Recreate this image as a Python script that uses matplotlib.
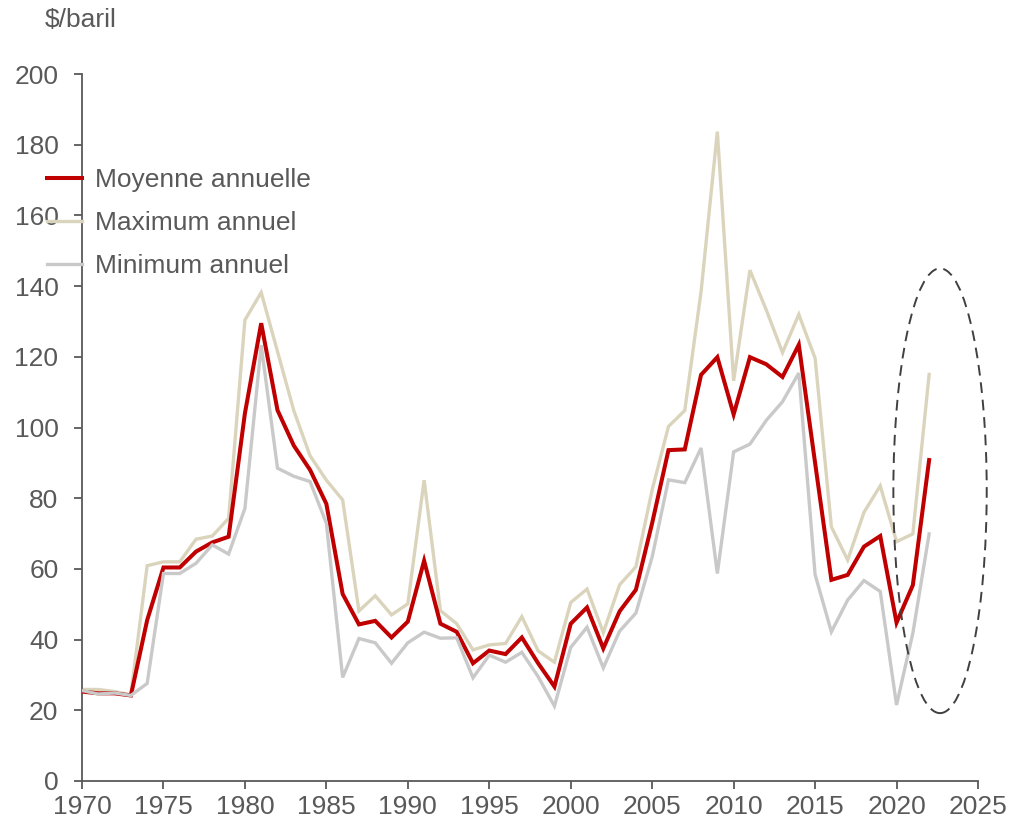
import matplotlib
matplotlib.use("Agg")
import matplotlib.pyplot as plt
from matplotlib.patches import Ellipse

plt.rcParams['font.family'] = ['Liberation Sans', 'DejaVu Sans']

years = list(range(1970, 2023))

moyenne = [25.3, 24.8, 24.8, 24.2, 45.5, 60.4, 60.4, 64.9, 67.5, 69.1,
           104.0, 129.5, 104.9, 94.9, 88.0, 78.4, 52.9, 44.3, 45.3, 40.6,
           45.1, 62.3, 44.5, 42.2, 33.3, 36.9, 35.9, 40.6, 33.3, 26.7,
           44.5, 49.1, 37.5, 48.0, 54.1, 73.0, 93.6, 93.8, 114.9, 119.9,
           103.7, 119.9, 117.9, 114.3, 123.4, 90.0, 56.9, 58.3, 66.3, 69.3,
           44.8, 55.4, 90.8]

maximum = [25.9, 25.9, 25.3, 24.4, 60.9, 62.0, 62.0, 68.4, 69.3, 74.3,
           130.4, 138.2, 121.5, 104.8, 92.0, 85.1, 79.5, 48.1, 52.4, 47.0,
           50.1, 85.1, 48.2, 44.5, 37.1, 38.5, 38.9, 46.5, 36.8, 33.6,
           50.5, 54.3, 42.0, 55.5, 60.6, 82.4, 100.3, 104.8, 138.4, 183.7,
           113.2, 144.5, 133.3, 121.2, 132.0, 119.6, 71.9, 62.5, 76.0, 83.5,
           67.7, 69.9, 115.0]

minimum = [25.6, 24.6, 24.9, 24.2, 27.6, 58.7, 58.7, 61.6, 66.8, 64.2,
           77.1, 123.3, 88.5, 86.2, 84.7, 72.9, 29.3, 40.3, 39.1, 33.3,
           39.1, 42.1, 40.4, 40.5, 29.2, 35.6, 33.6, 36.4, 29.5, 21.2,
           37.8, 43.5, 32.0, 42.4, 47.5, 63.4, 85.2, 84.4, 94.2, 58.7,
           93.1, 95.3, 102.0, 107.3, 115.4, 58.4, 42.2, 51.2, 56.7, 53.6,
           21.5, 41.8, 69.9]

labels = ["Moyenne annuelle", "Maximum annuel", "Minimum annuel"]
xticks = list(range(1970, 2026, 5))
yticks = list(range(0, 201, 20))

TXT = '#595959'
AX = '#595959'
FS = 19

fig = plt.figure(figsize=(10.13, 8.26), dpi=100)
ax = fig.add_axes([82/1013, 1-781/826, (978-82)/1013, (781-74)/826])

l_max, = ax.plot(years, maximum, color='#DBD4BC', lw=2.4, label=labels[1], zorder=2,
                 solid_joinstyle='miter')
l_moy, = ax.plot(years, moyenne, color='#C00000', lw=2.9, label=labels[0], zorder=3,
                 solid_joinstyle='miter')
l_min, = ax.plot(years, minimum, color='#C9C9C9', lw=2.4, label=labels[2], zorder=4,
                 solid_joinstyle='miter')

ell = Ellipse((2022.67, 82.1), 5.73, 125.8, fill=False, edgecolor='#404040',
              lw=1.4, ls=(0, (5.5, 3.5)), zorder=5, clip_on=False)
ax.add_patch(ell)

ax.set_xlim(1970, 2025)
ax.set_ylim(0, 200)
ax.set_xticks(xticks)
ax.set_yticks(yticks)
for s in ['top', 'right']:
    ax.spines[s].set_visible(False)
for s in ['left', 'bottom']:
    ax.spines[s].set_color(AX)
    ax.spines[s].set_linewidth(1.3)
ax.tick_params(axis='both', colors=AX, labelcolor=TXT, labelsize=FS, length=6,
               width=1.3, direction='out')
ax.tick_params(axis='y', pad=11)
ax.tick_params(axis='x', pad=4)

fig.text(45/1013, 1-20/826, "$/baril", fontsize=FS, color=TXT, ha='left', va='center')

leg = ax.legend(handles=[l_moy, l_max, l_min], loc='upper left',
                bbox_to_anchor=(47/1013, 1-168/826), bbox_transform=fig.transFigure,
                frameon=False, fontsize=FS, handlelength=1.33, handletextpad=0.5,
                labelspacing=0.72, borderaxespad=0, borderpad=0)
for t in leg.get_texts():
    t.set_color(TXT)

fig.savefig('out.png', dpi=100, facecolor='white')
